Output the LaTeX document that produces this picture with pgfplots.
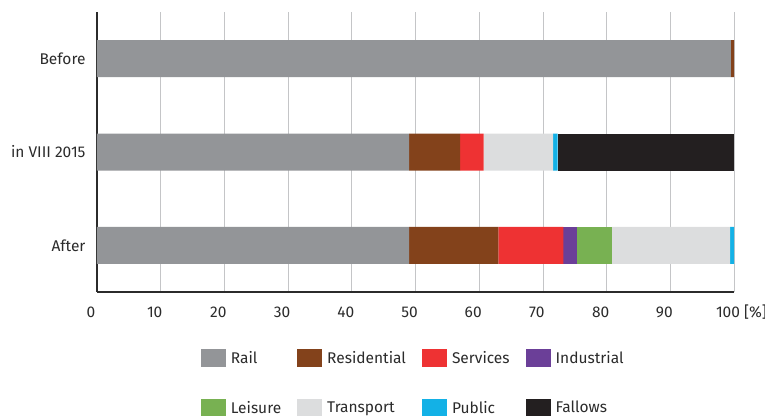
\documentclass[border=0pt]{standalone}
\usepackage{pgfplots}
\pgfplotsset{compat=1.18}
\usepackage{fontspec}
\setmainfont{Fira Sans}
\definecolor{cRail}{HTML}{939598}
\definecolor{cRes}{HTML}{83421B}
\definecolor{cServ}{HTML}{EE3233}
\definecolor{cInd}{HTML}{6B3F98}
\definecolor{cLeis}{HTML}{78B152}
\definecolor{cTrans}{HTML}{DCDDDE}
\definecolor{cPub}{HTML}{13B1E6}
\definecolor{cFal}{HTML}{231F20}
\definecolor{cGrid}{HTML}{C4C5C7}
\definecolor{cText}{HTML}{2B2B2B}
\begin{document}
\begin{tikzpicture}
\begin{axis}[
  name=ax,
  scale only axis,
  width=637pt, height=280pt,
  xbar stacked,
  bar width=37pt,
  xmin=0, xmax=100,
  ymin=-0.5, ymax=2.5,
  y dir=reverse,
  xtick={0,10,...,100},
  xticklabels={0,10,20,30,40,50,60,70,80,90,100\rlap{\smash{\hspace{4pt}[\%]}}},
  ytick={0,1,2},
  yticklabels={Before,in VIII 2015,After},
  major tick length=0pt,
  xmajorgrids,
  grid style={cGrid, line width=0.8pt},
  axis x line*=bottom,
  axis y line*=left,
  axis line style={-, line width=1.2pt, cText},
  font=\fontsize{15.5}{18}\selectfont,
  /pgf/number format/assume math mode=true,
  tick label style={text=cText, font=\fontsize{15.5}{18}\selectfont},
  xticklabel style={xshift=-6pt, yshift=-11pt},
  yticklabel style={xshift=-8pt},
  legend columns=4,
  legend cell align=left,
  legend image code/.code={\fill[#1] (0pt,-9pt) rectangle (25pt,9pt);},
  legend style={draw=none, at={(0.158,-0.195)}, anchor=north west,
    row sep=32pt, column sep=0pt,
    font=\fontsize{15.5}{18}\selectfont, text=cText,
    /tikz/every odd column/.append style={column sep=3pt},
    /tikz/every even column/.append style={column sep=14pt}},
  every axis plot/.append style={draw=none},
]
\addplot[fill=cRail] coordinates {(99.5,0) (49,1) (49,2)};
\addlegendentry{Rail}
\addplot[fill=cRes] coordinates {(0.5,0) (8,1) (14,2)};
\addlegendentry{Residential}
\addplot[fill=cServ] coordinates {(0,0) (3.7,1) (10.2,2)};
\addlegendentry{Services}
\addplot[fill=cInd] coordinates {(0,0) (0,1) (2.2,2)};
\addlegendentry{Industrial}
\addplot[fill=cLeis] coordinates {(0,0) (0,1) (5.4,2)};
\addlegendentry{Leisure}
\addplot[fill=cTrans] coordinates {(0,0) (10.9,1) (18.6,2)};
\addlegendentry{Transport}
\addplot[fill=cPub] coordinates {(0,0) (0.7,1) (0.6,2)};
\addlegendentry{Public}
\addplot[fill=cFal] coordinates {(0,0) (27.7,1) (0,2)};
\addlegendentry{Fallows}
\end{axis}
\pgfresetboundingbox
\path[use as bounding box] ([xshift=-97pt,yshift=12pt]ax.north west) rectangle ([xshift=31pt,yshift=-123pt]ax.south east);
\end{tikzpicture}
\end{document}
